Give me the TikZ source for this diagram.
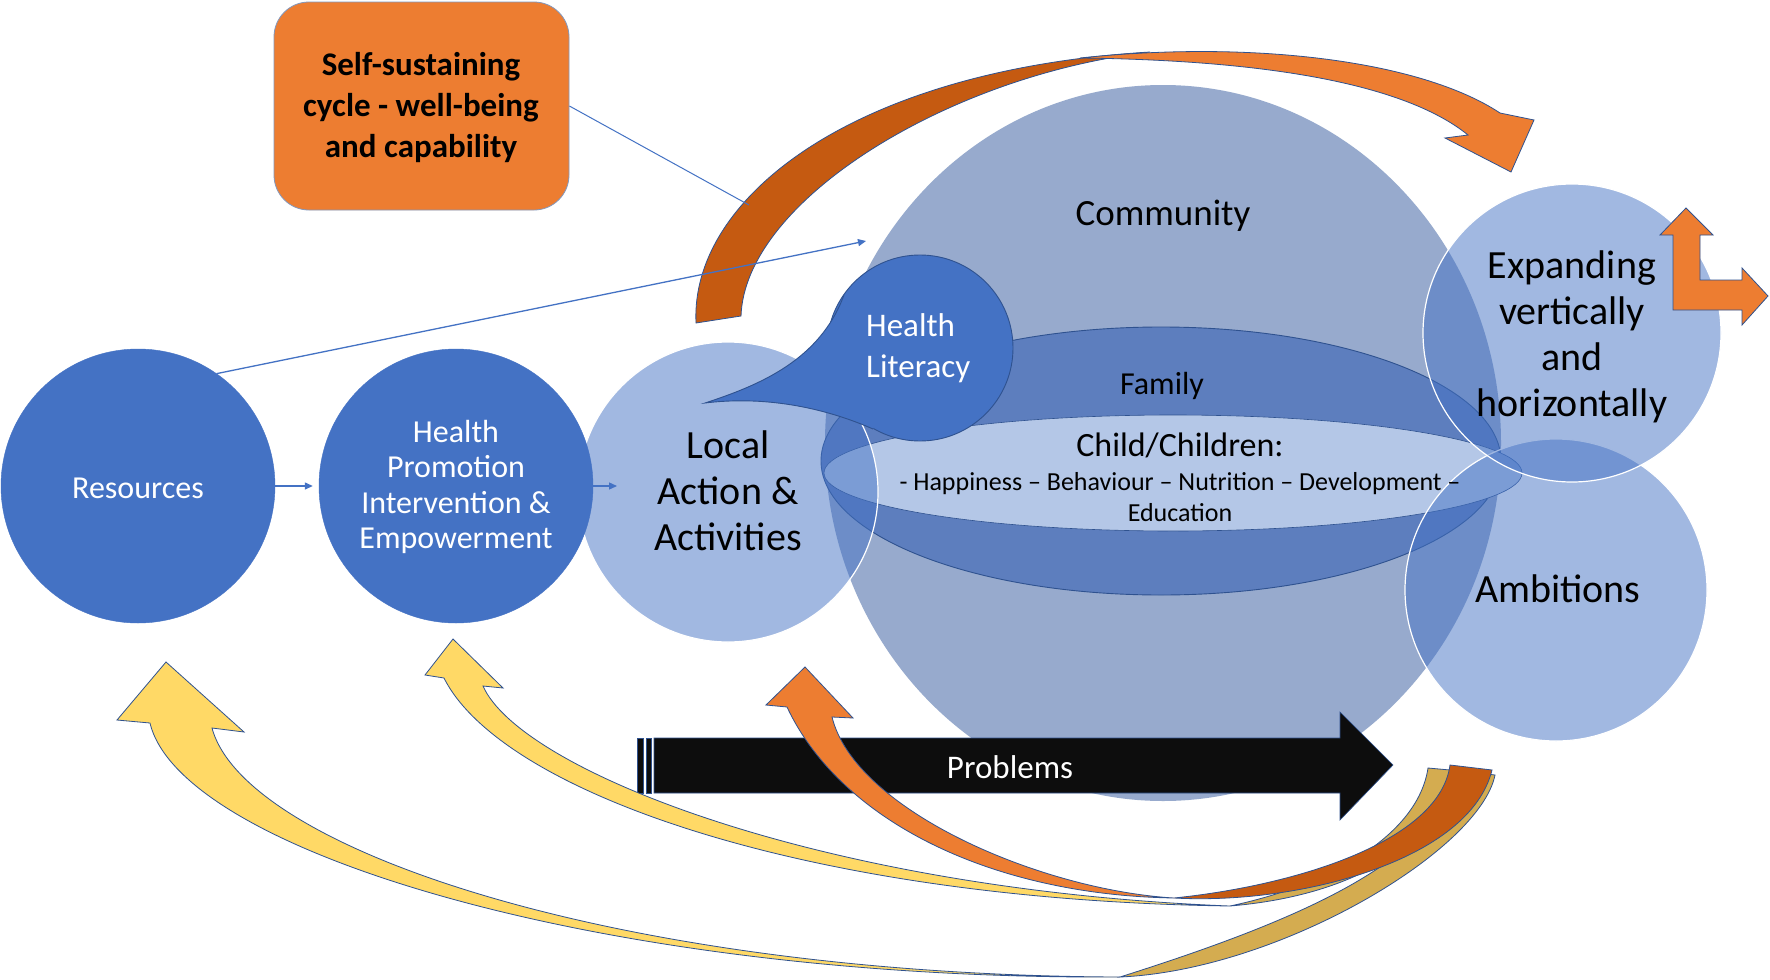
\documentclass[tikz,border=0pt]{standalone}
\usepackage{fontspec}
\setmainfont{Carlito}
\usetikzlibrary{arrows.meta,shapes.geometric}
\definecolor{mblue}{HTML}{4472C4}
\definecolor{outl}{HTML}{2F528F}
\definecolor{orng}{HTML}{ED7D31}
\definecolor{dorng}{HTML}{C55A11}
\definecolor{ylw}{HTML}{FFD966}
\definecolor{gold}{HTML}{D4AC50}
\definecolor{commc}{RGB}{151,170,205}
\definecolor{famc}{RGB}{93,126,190}
\definecolor{childc}{HTML}{B4C7E7}
\definecolor{blk}{HTML}{0D0D0D}
\begin{document}
\begin{tikzpicture}[x=1pt,y=-1pt,
  outlined/.style={draw=outl, line width=0.8pt},
  semicirc/.style={circle, fill=mblue, fill opacity=0.5, draw=white, line width=1.2pt, inner sep=0pt},
  solidcirc/.style={circle, fill=mblue, draw=mblue, inner sep=0pt},
  lbl/.style={inner sep=0pt, align=center, text=black},
  wlbl/.style={inner sep=0pt, align=center, text=white},
  thinarrow/.style={draw=mblue, line width=1.3pt, -{Triangle[length=8pt,width=7pt]}},
]
\path[fill=white] (0,0) rectangle (1770,980);
\useasboundingbox (0,0) rectangle (1770,980);

% top curved arrow
\path[fill=dorng, outlined] (696,323) .. controls (690,200) and (850,70) .. (1150,52) .. controls (950,75) and (745,200) .. (741,316) -- cycle;
\path[fill=orng, outlined] (1080,58) .. controls (1250,40) and (1420,60) .. (1500,113) -- (1534,120) -- (1511,172) -- (1445,138) -- (1468,135) .. controls (1400,80) and (1250,60) .. (1080,58) -- cycle;

% community, family, child
\node[ellipse, minimum width=676pt, minimum height=716pt, fill=commc, inner sep=0pt] (comm) at (1163,443) {};
\node[ellipse, minimum width=680pt, minimum height=268pt, fill=famc, draw=outl, line width=0.9pt, inner sep=0pt] (fam) at (1161,461) {};
\node[ellipse, minimum width=698pt, minimum height=116pt, fill=childc, draw=outl, line width=0.6pt, inner sep=0pt] (child) at (1173,473) {};

% translucent circles
\node[semicirc, minimum size=300pt] (loc) at (728,492) {};
\node[semicirc, minimum size=302pt] (amb) at (1556,590) {};
\node[semicirc, minimum size=298pt] (exp) at (1572,333) {};

% health literacy bubble
\node[circle, minimum size=186pt, fill=mblue, draw=outl, line width=0.9pt, inner sep=0pt] (hl) at (920,348) {};
\path[fill=mblue] (844,295) .. controls (820,360) and (760,385) .. (705,403) .. controls (770,395) and (830,410) .. (873,429) -- (hl.center) -- cycle;
\draw[outl, line width=0.9pt] (844,295) .. controls (820,360) and (760,385) .. (705,403) .. controls (770,395) and (830,410) .. (873,429);

% resources, health promotion
\node[solidcirc, minimum size=274pt] (res) at (138,486) {};
\node[solidcirc, minimum size=274pt] (hp) at (456,486) {};

% label box
\node[rounded corners=35pt, minimum width=295pt, minimum height=208pt, fill=orng, draw=outl!60, line width=0.8pt, inner sep=0pt] (box) at (421.5,106) {};
\coordinate (boxend) at (749,205);
\draw[mblue, line width=1pt] (box.east) -- (boxend);

% problems arrow
\path[fill=blk, outlined, line width=0.6pt] (637,738) rectangle (643,793);
\path[fill=blk, outlined, line width=0.6pt] (646,738) rectangle (651,793);
\path[fill=blk, outlined, line width=0.6pt] (654,738) -- (1340,738) -- (1340,712) -- (1393,765) -- (1340,820) -- (1340,793) -- (654,793) -- cycle;

% big yellow arrow to resources
\path[fill=gold, outlined] (1120,977) .. controls (1280,970) and (1480,850) .. (1495,775) -- (1455,770) .. controls (1440,860) and (1300,920) .. (1120,977) -- cycle;
\path[fill=ylw, outlined] (1120,977) .. controls (600,980) and (180,850) .. (150,723) -- (117,720) -- (166,662) -- (244,732) -- (212,728) .. controls (245,850) and (620,975) .. (1120,977) -- cycle;

% second yellow arrow to health promotion
\path[fill=gold, outlined] (1230,906) .. controls (1360,895) and (1440,840) .. (1450,770) -- (1428,768) .. controls (1418,835) and (1330,885) .. (1230,906) -- cycle;
\path[fill=ylw, outlined] (1230,906) .. controls (800,900) and (500,790) .. (444,678) -- (425,675) -- (453,639) -- (503,688) -- (483,686) .. controls (520,770) and (820,890) .. (1230,906) -- cycle;

% orange arrow to local action
\path[fill=dorng, outlined] (1174,898) .. controls (1300,905) and (1470,860) .. (1492,770) -- (1450,765) .. controls (1440,840) and (1300,885) .. (1174,898) -- cycle;
\path[fill=orng, outlined] (1174,898) .. controls (990,895) and (840,820) .. (787,707) -- (766,705) -- (805,667) -- (853,718) -- (832,717) .. controls (855,810) and (1040,890) .. (1174,898) -- cycle;

% thin blue arrows
\coordinate (locin) at (617,486);
\coordinate (commin) at (866,241);
\draw[thinarrow] (res.east) -- ([xshift=-6pt]hp.west);
\draw[thinarrow] (hp.east) -- (locin);
\draw[thinarrow] (res.55) -- (commin);

% L-shaped arrow
\path[fill=orng, outlined] (1673,310) -- (1673,235) -- (1660,235) -- (1686,208) -- (1713,235) -- (1700,235) -- (1700,280) -- (1742,280) -- (1742,268) -- (1768,296) -- (1742,325) -- (1742,310) -- cycle;

% texts
\node[lbl, font=\bfseries\fontsize{33}{41}\selectfont] (tbox) at (421,108) {Self-sustaining\\cycle - well-being\\and capability};
\node[wlbl, font=\fontsize{32}{38}\selectfont] (tres) at (138,488) {Resources};
\node[wlbl, font=\fontsize{32}{35.5}\selectfont] (thp) at (456,487) {Health\\Promotion\\Intervention \&\\Empowerment};
\node[lbl, font=\fontsize{40}{46}\selectfont] (tloc) at (728,491) {Local\\Action \&\\Activities};
\node[lbl, font=\fontsize{37}{44}\selectfont] (tcomm) at (1163,216) {Community};
\node[wlbl, align=left, anchor=west, font=\fontsize{33}{41}\selectfont] (thl) at (866,348) {Health\\Literacy};
\node[lbl, font=\fontsize{32}{38}\selectfont] (tfam) at (1162,386) {Family};
\node[lbl, font=\fontsize{34}{40}\selectfont] (tchild) at (1180,445) {Child/Children:};
\node[lbl, font=\fontsize{26}{31}\selectfont] (titems) at (1180,497) {- Happiness – Behaviour – Nutrition – Development –\\Education};
\node[lbl, font=\fontsize{40}{46}\selectfont] (texp) at (1572,337) {Expanding\\vertically\\and\\horizontally};
\node[lbl, font=\fontsize{40}{46}\selectfont] (tamb) at (1558,589) {Ambitions};
\node[wlbl, font=\fontsize{33}{40}\selectfont] (tprob) at (1010,767) {Problems};
\end{tikzpicture}
\end{document}
